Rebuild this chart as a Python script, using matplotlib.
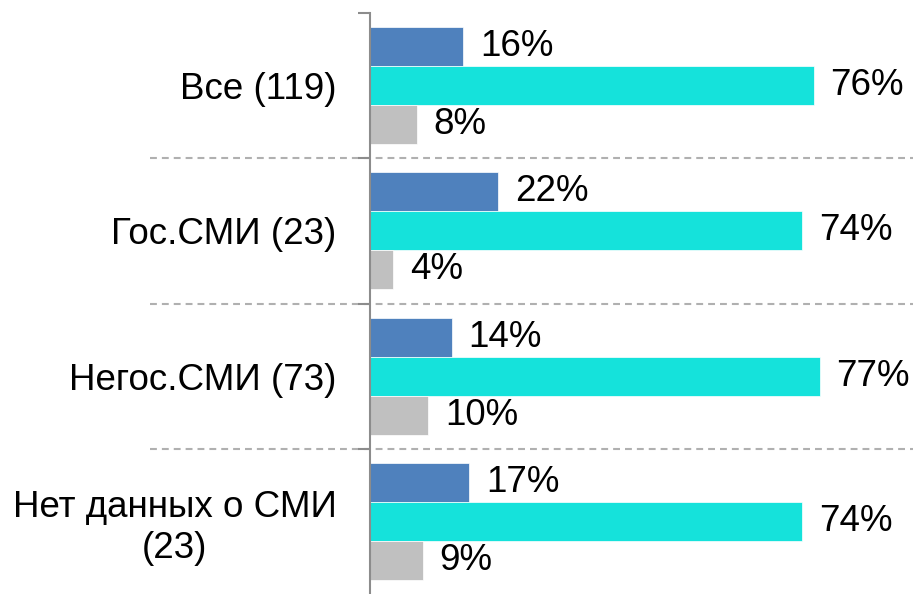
import numpy as np
import matplotlib.pyplot as plt

plt.rcParams['font.family'] = ['Liberation Sans', 'DejaVu Sans']

categories = ['Все (119)', 'Гос.СМИ (23)', 'Негос.СМИ (73)', 'Нет данных о СМИ\n(23)']
blue_vals = [16, 22, 14, 17]
cyan_vals = [76, 74, 77, 74]
grey_vals = [8, 4, 10, 9]

colors = ['#4F81BD', '#15E2DB', '#C0C0C0']

fig = plt.figure(figsize=(9.13, 5.94), dpi=100)
ax = fig.add_axes([370 / 913, 0, 543 / 913, 581 / 594])

y = np.arange(len(categories))
h = 0.268
for vals, off, col in zip([blue_vals, cyan_vals, grey_vals], [-h, 0, h], colors):
    bars = ax.barh(y + off, vals, height=h, color=col, edgecolor='white', linewidth=0.5)
    for b, v in zip(bars, vals):
        ax.annotate(f'{v}%', (b.get_width(), b.get_y() + b.get_height() / 2),
                    xytext=(12, 0), textcoords='offset points',
                    ha='left', va='center', fontsize=26.5)

ax.set_xlim(0, 543 / 5.84)
ax.set_ylim(len(categories) - 0.5, -0.5)

# dashed separators between groups
for sep in y[:-1] + 0.5:
    ax.plot([-(220 / 5.84), 543 / 5.84], [sep, sep], color='#B0B0B0', lw=1.5,
            dashes=(3.3, 2.4), clip_on=False, zorder=0)

for s in ['top', 'right', 'bottom']:
    ax.spines[s].set_visible(False)
ax.spines['left'].set_color('#8C8C8C')
ax.spines['left'].set_linewidth(1.5)
ax.set_xticks([])

ax.set_yticks(y)
ax.set_yticklabels(categories, fontsize=26.5)
ax.tick_params(axis='y', which='major', length=0, pad=24)
ax.set_yticks(np.arange(-0.5, len(categories) - 0.5), minor=True)
ax.tick_params(axis='y', which='minor', length=8.6, width=1.5, color='#8C8C8C')
for lab in ax.get_yticklabels():
    lab.set_multialignment('center')

fig.savefig('out.png', dpi=100)
